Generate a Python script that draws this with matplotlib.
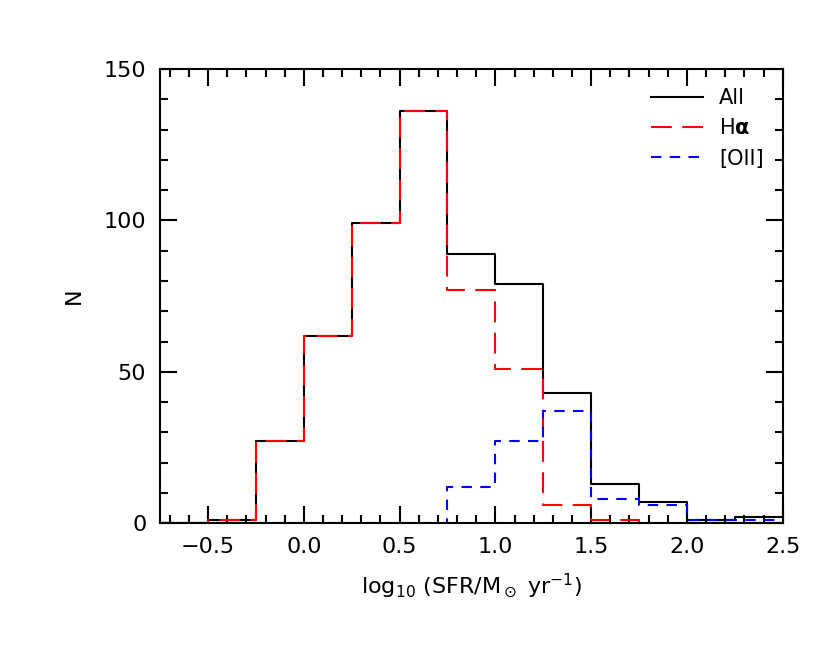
import numpy as np
import matplotlib.pyplot as plt
from matplotlib.ticker import MultipleLocator

edges = np.arange(-0.75, 2.51, 0.25)
n_all = [0, 1, 27, 62, 99, 136, 89, 79, 43, 13, 7, 1, 2]
n_ha = [0, 1, 27, 62, 99, 136, 77, 51, 6, 1, 0, 0, 0]
n_oii = [0, 0, 0, 0, 0, 0, 12, 27, 37, 8, 6, 1, 1]

plt.rcParams.update({"font.family": "DejaVu Sans", "font.size": 16})

fig = plt.figure(figsize=(8.3, 6.64), dpi=100)
ax = fig.add_axes([0.193, 0.212, 0.75, 0.684])


def steps(vals):
    return np.append(vals, vals[-1])


ax.step(edges, steps(n_all), where="post", color="black", lw=1.5, label="All")
ax.step(edges, steps(n_ha), where="post", color="red", lw=1.5,
        dashes=(10, 5), label=r"H$\mathbf{\alpha}$")
ax.step(edges, steps(n_oii), where="post", color="blue", lw=1.5,
        dashes=(5, 4), label="[OII]")

ax.set_xlim(-0.75, 2.5)
ax.set_ylim(0, 150)
ax.xaxis.set_major_locator(MultipleLocator(0.5))
ax.xaxis.set_minor_locator(MultipleLocator(0.1))
ax.yaxis.set_major_locator(MultipleLocator(50))
ax.yaxis.set_minor_locator(MultipleLocator(10))
ax.tick_params(which="both", direction="in", top=True, right=True, width=1.5)
ax.tick_params(which="major", length=12, pad=10)
ax.tick_params(which="minor", length=6)
for s in ax.spines.values():
    s.set_linewidth(1.5)

ax.set_xlabel(r"log$_{10}$ (SFR/M$_\odot$ yr$^{-1}$)", labelpad=10)
ax.set_ylabel("N", labelpad=14)
ax.legend(loc="upper right", frameon=False, handlelength=2.5, fontsize=15)

fig.savefig("out.png", dpi=100)
